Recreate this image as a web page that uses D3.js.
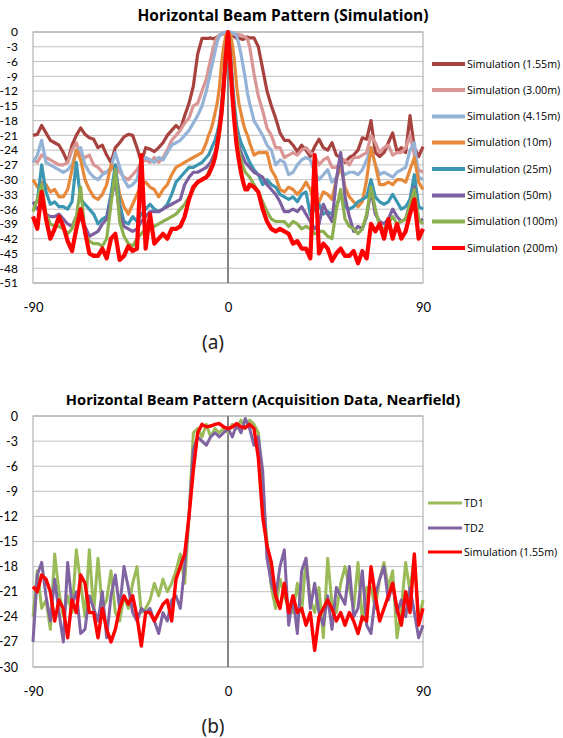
<!DOCTYPE html>
<html>
<head>
<meta charset="utf-8">
<script src="https://cdn.jsdelivr.net/npm/d3@7"></script>
<style>
	body { margin: 0; background: #fff; }
	svg text { font-family: "Open Sans", "Liberation Sans", sans-serif; }
</style>
</head>
<body>
<svg id="chart" width="563" height="738"></svg>
<script>

// ---- panel (a): simulation, angles in degrees, levels in dB ----
var anglesA = [-90,-88,-86,-84,-82,-80,-78,-76,-74,-72,-70,-68,-66,-64,-62,-60,-58,-56,-54,-52,
	-50,-48,-46,-44,-42,-40,-38,-36,-34,-32,-30,-28,-26,-24,-22,-20,-18,-16,-14,-12,
	-10,-9,-8,-7,-6,-5,-4,-3,-2,-1,0,1,2,3,4,5,6,7,8,9,10,
	12,14,16,18,20,22,24,26,28,30,32,34,36,38,40,42,44,46,48,50,
	52,54,56,58,60,62,64,66,68,70,72,74,76,78,80,82,84,86,88,90]

var sim155 = [-21,-20.8,-19,-20.5,-22,-22.5,-23,-24.5,-26.5,-23,-21,-19.5,-20.8,-21.5,-21.8,-23.5,-23,-25,-26.5,-23.5,
	-22.5,-21.3,-20.8,-21,-23.5,-26.5,-23.5,-23.8,-24.3,-23.5,-22.5,-21,-20,-19,-19.8,-17,-14.5,-11,-4.5,-1.3,
	-1.3,-1.3,-1.2,-1.4,-1.2,-1,-0.8,-0.5,-0.3,-0.1,0,-0.2,-0.6,-1,-1.3,-1.2,-1.4,-1.5,-1.3,-1,-1.2,
	-1.2,-3,-7.5,-12,-15,-17.5,-20.5,-22,-22,-23,-24.3,-23,-24,-25.3,-23.3,-21.8,-23.5,-24,-22.5,-25,
	-25.5,-26.5,-25.5,-25,-24,-21.5,-21.8,-18,-24.5,-25.3,-24.5,-22.5,-20.5,-24.3,-23.5,-24.5,-17,-23.5,-25.3,-23.3]

var sim300 = [-26,-26.5,-25,-25.5,-26,-26.5,-27,-27,-26.5,-24,-22.5,-25,-25.5,-25,-27,-27.5,-28.5,-28.5,-28,-27,
	-28.5,-29.5,-30,-29,-28,-26.5,-26,-26.5,-25.5,-26.5,-25.5,-24,-22,-21,-20,-18.5,-17.5,-15,-14.5,-12,
	-9.5,-7.5,-5.5,-3.5,-2,-1,-0.6,-0.5,-0.3,-0.1,0,-0.2,-0.4,-0.5,-0.5,-0.5,-0.6,-0.8,-1,-1.5,-3,
	-8.5,-13,-16,-19.5,-21,-23.5,-23.5,-25.5,-25,-24.5,-25,-24,-23.5,-24.5,-25,-27,-26,-25.5,-27.5,-27.5,
	-26.5,-26,-27,-25.5,-25.5,-25,-24.5,-21,-22.5,-24.5,-23.5,-23,-25,-24.5,-24.5,-23.5,-21,-25,-28,-28.5]

var sim415 = [-26.5,-25,-22,-26.5,-27,-27.5,-28,-28.5,-28,-27,-24,-23.5,-27,-28.5,-29.5,-30,-29,-28.5,-27.5,-24.5,
	-27.5,-30,-31.5,-31,-30,-26,-25.5,-26,-26.5,-25.5,-26,-24.5,-23,-22.5,-22,-21,-20,-18.5,-17,-15,
	-12,-10,-8,-6,-4,-2,-0.8,-0.3,-0.1,0,0,0,-0.1,-0.3,-0.8,-2.5,-4.5,-7,-9.5,-12.5,-14.5,
	-18,-19.5,-21,-23,-24,-27,-26,-26.5,-29,-28.5,-27,-26,-25.5,-26,-28.5,-30,-29,-28,-30.5,-29.5,
	-28,-29,-28.5,-28.5,-29,-28,-26,-23.5,-27,-29,-28.5,-29,-29.5,-28.5,-28,-27.5,-24,-22.5,-29.5,-30]

var sim10 = [-30,-31.5,-30.5,-31,-32.5,-32,-33.5,-33.5,-32,-28,-24,-26,-30,-32,-33.5,-34,-33,-31,-27,-28,
	-33,-35.5,-37,-35,-33,-31,-30.5,-31.5,-32,-33.5,-32,-31,-29,-27.5,-27,-26.5,-26,-25.5,-25,-24.5,
	-22.5,-21,-20,-18.5,-16.5,-14.5,-11.5,-6.5,-3,-0.7,0,-0.5,-2.5,-6,-11,-14.5,-16.5,-18.5,-20,-21,-22.5,
	-25,-24.5,-24.5,-24.5,-28,-29.5,-32,-32.5,-31.5,-32,-33,-32,-30.5,-32,-35,-34.5,-32.5,-33,-34,-30,
	-27,-31.5,-33.5,-34.5,-35.5,-34.5,-30,-23.5,-27,-31,-31,-30.5,-31,-30,-30,-30.5,-28,-25.5,-30.5,-32]

var sim25 = [-35,-34.5,-27,-32.5,-35,-34.5,-35.5,-35.5,-36,-34.5,-26.5,-34,-35,-36,-37,-39,-38,-37.5,-33,-27,
	-35,-38.5,-39,-37.5,-38.5,-37,-36,-35,-36,-36.5,-36,-35,-33,-30.5,-29.5,-28.5,-27.5,-27.5,-27,-26.5,
	-25.5,-25,-24,-23,-22,-20.5,-18.5,-15,-10,-3.5,0,-3.5,-10,-15,-19,-21,-22.5,-23.5,-24.5,-25.5,-26.5,
	-28,-29,-31,-30,-31,-31.5,-33,-33.5,-34,-33.5,-34.5,-33,-32.5,-37,-36,-35,-37,-36.5,-37,-35.5,
	-33,-35.5,-36,-35.5,-34.5,-34,-33.5,-30,-33.5,-34.5,-35,-34.5,-33,-34.5,-36,-35.5,-34,-29,-35.5,-36]

var sim50 = [-34.5,-36,-35,-37,-37.5,-37.5,-37,-38,-39,-39.5,-37.5,-38,-39.5,-41.5,-41,-40.5,-39,-38,-34,-30,
	-37,-39.5,-40,-40.5,-40,-38.5,-37.5,-36.5,-36.5,-36.5,-36,-35.5,-35,-34.5,-34,-31,-29.5,-28.5,-28.5,-28,
	-27.5,-27,-26.5,-25.5,-24.5,-23,-20,-16,-11,-4,0,-4,-11,-16.5,-20.5,-23,-24.5,-25.5,-26.5,-27,-27.5,
	-28.5,-29,-29.5,-31,-32,-33,-34.5,-36.5,-36.5,-36,-36.5,-35.5,-37,-38.5,-40,-39,-35,-37,-38.5,-30,
	-24.5,-33.5,-37.5,-40.5,-39.5,-40,-37.5,-32,-37,-38.5,-39,-38,-36,-37.5,-38.5,-38,-35,-31.5,-38.5,-38]

var sim100 = [-36.5,-34,-31,-37,-39,-39.5,-39.5,-40,-41,-40,-37.5,-31.5,-41,-42.5,-43,-43,-43.5,-42,-35,-28,
	-38.5,-41.5,-43,-43.5,-42,-41,-40,-39.5,-39.5,-39,-38.5,-38,-37.5,-37,-36,-35,-33.5,-32,-30.5,-30,
	-29.5,-28.5,-27.5,-26.5,-25,-23.5,-21,-17,-12,-4.5,0,-4.5,-12,-17,-21,-24,-26,-27.5,-28.5,-29,-29.5,
	-31,-32.5,-34.5,-36.5,-38,-38.5,-38.5,-38.5,-39.5,-38.5,-39,-40,-39.5,-40,-41,-40.5,-40.5,-41.5,-42,-36,
	-32,-38,-39.5,-40,-41,-40,-37,-31.5,-36,-39.5,-40,-39,-37.5,-39,-38.5,-38,-35,-32,-38,-39]

var sim200 = [-37.5,-40,-32.5,-38,-42,-40,-37.5,-39.5,-42.5,-44.5,-40,-36,-40.5,-45,-45.5,-45.5,-44,-46,-42,-41,
	-46.3,-45.5,-43.5,-44.5,-44,-25,-44,-37,-43,-42,-41,-42,-40,-40,-39.5,-37.5,-34,-31.5,-30.5,-30,
	-29.5,-29,-28,-27,-25.5,-23,-20,-16.5,-11,-5,0,-6,-13,-18.5,-23,-26,-28.5,-30.5,-32,-32,-31,
	-31.5,-32.5,-36,-38.5,-40,-40.5,-40,-40.5,-41,-43,-42.5,-44,-44,-46,-25,-45,-43,-44,-46.5,-45,
	-44,-45.5,-45.5,-44.5,-47,-44.5,-46,-39,-40.5,-39,-42,-38,-42,-39,-42,-40.5,-37,-34,-42,-40]

var namesA = ['Simulation (1.55m)', 'Simulation (3.00m)', 'Simulation (4.15m)', 'Simulation (10m)',
	'Simulation (25m)', 'Simulation (50m)', 'Simulation (100m)', 'Simulation (200m)']
var yTicksA = [0,-3,-6,-9,-12,-15,-18,-21,-24,-27,-30,-33,-36,-39,-42,-45,-48,-51]

// ---- panel (b): acquisition data, nearfield ----
var anglesB = [-90,-88,-86,-84,-82,-80,-78,-76,-74,-72,-70,-68,-66,-64,-62,-60,-58,-56,-54,-52,
	-50,-48,-46,-44,-42,-40,-38,-36,-34,-32,-30,-28,-26,-24,-22,-20,-18,-16,-14,-12,
	-10,-8,-6,-4,-2,0,2,4,6,8,10,12,14,16,18,20,22,24,26,28,
	30,32,34,36,38,40,42,44,46,48,50,52,54,56,58,60,62,64,66,68,
	70,72,74,76,78,80,82,84,86,88,90]

var td1 = [-24,-18.5,-23,-22,-25.5,-16.5,-21,-24,-21.5,-23.5,-16,-20,-24,-16,-23.5,-17,-23,-22,-18.5,-23.5,
	-24.5,-21.5,-23,-20,-18,-23.5,-23,-22,-20,-21.5,-19.5,-21,-20,-18.5,-16.5,-20,-12,-2,-1.5,-2.5,
	-1,-2.5,-1.5,-2,-1.5,-2,-1,-1.5,-0.5,-1.5,-0.5,-1,-2,-9,-15,-20.5,-23,-19.5,-21.5,-23,
	-23.5,-20,-23.5,-17,-22,-23.5,-20.5,-26.5,-17,-22.5,-23.5,-20,-18,-20.5,-23,-17.5,-24.5,-20.5,-20.5,-23,
	-19.5,-17.5,-20.5,-18.5,-26.5,-23,-17.5,-21,-16.5,-24.5,-22]

var td2 = [-27,-19,-17.5,-21.5,-24.5,-19.5,-23.5,-27,-17.5,-22.5,-21,-26,-25.5,-21.5,-23,-24.5,-21,-26.5,-21.5,-19,
	-23,-18,-20.5,-23.5,-24.5,-23,-23.5,-23,-24.5,-26,-23.5,-24.5,-22,-21.5,-23,-18,-12,-4,-2.5,-3,
	-3.5,-2.5,-2,-2.5,-2,-1.5,-2.5,-1,-2,-0.3,-1.5,-3.5,-2.5,-6.5,-17,-20,-21.5,-18,-16,-25,
	-21.5,-26,-18.5,-17,-23,-20,-23.5,-25,-21.5,-25.5,-20.5,-21.5,-22.5,-18,-24,-23,-18.5,-25,-26,-21.5,
	-19.5,-18,-22,-20,-23.5,-22,-24,-20.5,-23.5,-26.5,-25]

var simNear = [-20.4,-21,-19,-19.5,-21,-24.5,-22,-23,-26.5,-22,-23.5,-19,-20,-23.5,-23.5,-26.5,-23,-25.5,-27,-25.5,
	-23,-21.5,-22.5,-21.5,-24,-27.5,-23.5,-23.5,-24.5,-23.5,-22.5,-22,-24.5,-19.5,-18,-16.5,-12,-6.5,-2,-1,
	-1.3,-1.2,-1,-0.9,-1.3,-1.5,-1.3,-0.9,-1.3,-1.4,-1,-1.5,-5,-12,-15.5,-17.5,-21.5,-23,-20,-23.5,
	-21.5,-23.5,-23,-25,-23.5,-28,-24,-23,-22,-23,-24.5,-23.5,-25,-23.5,-24.5,-26,-24,-24.5,-18,-21.5,
	-24.5,-23,-21.5,-20,-23,-25,-21,-23.5,-16.5,-25,-23]

var namesB = ['TD1', 'TD2', 'Simulation (1.55m)']
var yTicksB = [0,-3,-6,-9,-12,-15,-18,-21,-24,-27,-30]
var xTicks = [-90, 0, 90]

var svg = d3.select('#chart')

/**
 * draw one beam pattern panel
 */
function drawPanel(p) {

	var x = d3.scaleLinear().domain([-90, 90]).range([33, 423])
		, y = d3.scaleLinear().domain([0, p.yMin]).range([p.top, p.bottom])
		, g = svg.append('g')

	// horizontal gridlines
	g.append('g').selectAll('line').data(p.yTicks)
	  .enter()
	    .append('line')
	    .attr('x1', x(-90)).attr('x2', x(90))
	    .attr('y1', function(d) { return y(d) })
	    .attr('y2', function(d) { return y(d) })
	    .attr('stroke', '#c0c0c0')
	    .attr('stroke-width', 1)

	// plot frame
	g.append('rect')
		.attr('x', x(-90)).attr('y', p.top)
		.attr('width', x(90) - x(-90)).attr('height', p.bottom - p.top)
		.attr('fill', 'none')
		.attr('stroke', '#a6a6a6')

	// vertical axis through 0 deg
	g.append('line')
		.attr('x1', x(0)).attr('x2', x(0))
		.attr('y1', p.top).attr('y2', p.bottom)
		.attr('stroke', '#868686')
		.attr('stroke-width', 2)

	// tick labels: Lato keeps the tight -3 dB rows from colliding
	var yAxis = g.append('g')
		.attr('transform', 'translate(' + x(-90) + ',0)')
		.call(d3.axisLeft(y).tickValues(p.yTicks).tickSize(0).tickPadding(15).tickFormat(String))
	yAxis.select('.domain').remove()
	yAxis.attr('font-family', null).attr('font-size', p.tickFont)
	yAxis.selectAll('text').attr('fill', '#000').style('font-family', 'Lato, sans-serif')

	var xAxis = g.append('g')
		.attr('transform', 'translate(0,' + p.bottom + ')')
		.call(d3.axisBottom(x).tickValues(xTicks).tickSize(0).tickPadding(20).tickFormat(String))
	xAxis.select('.domain').remove()
	xAxis.attr('font-family', null).attr('font-size', 13)
	xAxis.selectAll('text').attr('fill', '#000').style('font-family', 'Lato, sans-serif')

	var line = d3.line()
		.x(function(d, i) { return x(p.angles[i]) })
		.y(function(d) { return y(d) })

	p.series.forEach(function(s) {
		g.append('path')
			.datum(s.values)
			.attr('d', line)
			.attr('fill', 'none')
			.attr('stroke', s.color)
			.attr('stroke-width', s.width)
			.attr('stroke-linejoin', 'round')
	})

	// legend
	p.series.forEach(function(s, i) {
		var ly = p.legendY[i]
		g.append('line')
			.attr('x1', p.legendX).attr('x2', p.legendX + p.legendLen)
			.attr('y1', ly).attr('y2', ly)
			.attr('stroke', s.color)
			.attr('stroke-width', p.legendStroke)
		g.append('text')
			.attr('x', p.legendX + p.legendLen + 2)
			.attr('y', ly)
			.attr('dy', '0.35em')
			.attr('font-size', 10.7)
			.attr('fill', '#000')
			.text(s.name)
	})

	// title and caption
	g.append('text')
		.attr('x', p.titleX).attr('y', p.top - 11)
		.attr('text-anchor', 'middle')
		.attr('font-size', p.titleFont)
		.attr('font-weight', 'bold')
		.attr('fill', '#000')
		.text(p.title)

	g.append('text')
		.attr('x', 213).attr('y', p.bottom + 66)
		.attr('text-anchor', 'middle')
		.style('font-family', '"Noto Sans", sans-serif')
		.attr('font-size', 19)
		.attr('fill', '#222')
		.text(p.caption)
}

var colorsA = ['#a7423f', '#d99694', '#95b3d7', '#e6893b', '#3b97b1', '#7d60a0', '#8caf50', '#ff0000']
var valuesA = [sim155, sim300, sim415, sim10, sim25, sim50, sim100, sim200]

drawPanel({
	top: 32, bottom: 283, yMin: -51, yTicks: yTicksA, angles: anglesA, tickFont: 12,
	title: 'Horizontal Beam Pattern (Simulation)', titleX: 283, titleFont: 15.5, caption: '(a)',
	series: valuesA.map(function(v, i) {
		return { name: namesA[i], color: colorsA[i], values: v, width: i === 7 ? 4.2 : 3.2 }
	}),
	legendX: 432, legendLen: 33, legendStroke: 4,
	legendY: [64, 90, 116.5, 142.5, 169, 195.5, 221.5, 248]
})

var colorsB = ['#9bbb59', '#8064a2', '#ff0000']
var valuesB = [td1, td2, simNear]

drawPanel({
	top: 416, bottom: 667, yMin: -30, yTicks: yTicksB, angles: anglesB, tickFont: 12.5,
	title: 'Horizontal Beam Pattern (Acquisition Data, Nearfield)', titleX: 263, titleFont: 14.7, caption: '(b)',
	series: valuesB.map(function(v, i) {
		return { name: namesB[i], color: colorsB[i], values: v, width: i === 2 ? 3.4 : 3 }
	}),
	legendX: 428, legendLen: 34, legendStroke: 3,
	legendY: [503, 528, 552]
})

</script>
</body>
</html>
